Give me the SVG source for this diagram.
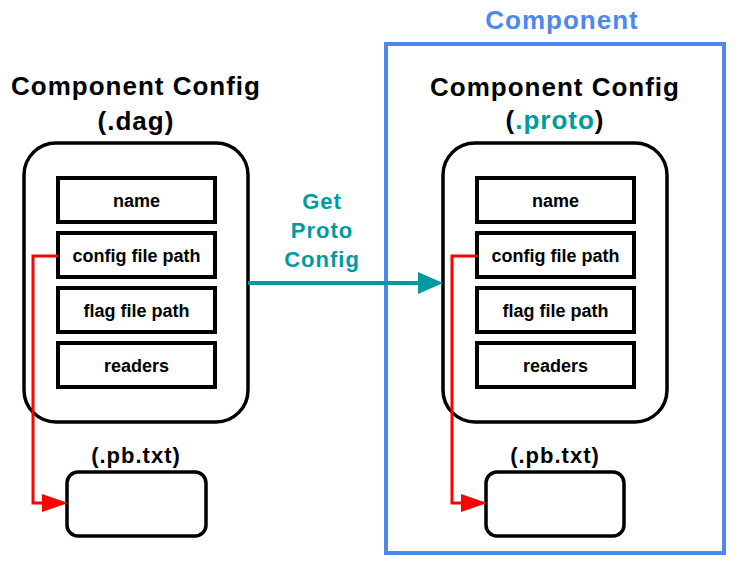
<svg xmlns="http://www.w3.org/2000/svg" width="738" height="566" viewBox="0 0 738 566">
<style>
text{font-family:"Liberation Sans",Arial,sans-serif;font-weight:bold;text-anchor:middle}
.title{font-size:26px;letter-spacing:1px;fill:#000}
.field{font-size:18px;fill:#000}
.pb{font-size:22px;letter-spacing:1px;fill:#000}
.outer{fill:#fff;stroke:#000;stroke-width:3.5}
.box{fill:#fff;stroke:#000;stroke-width:4}
.red{fill:none;stroke:#ff0000;stroke-width:3}
.teal{fill:#009aa0}
</style>
<rect width="738" height="566" fill="#fff"/>
<g id="component-frame">
<rect x="386" y="44" width="338" height="509" fill="none" stroke="#4f88ec" stroke-width="4"/>
<text x="562" y="29" class="title" fill="#4f88ec" style="fill:#4f88ec">Component</text>
</g>
<g id="dag-config">
<text x="136" y="95" class="title">Component Config</text>
<text x="136" y="130" class="title">(.dag)</text>
<rect x="24" y="143" width="224" height="279" rx="32" class="outer"/>
<rect x="58" y="178" width="157" height="44" class="box"/>
<text x="136.5" y="207" class="field">name</text>
<rect x="58" y="233" width="157" height="44" class="box"/>
<text x="136.5" y="262" class="field">config file path</text>
<rect x="58" y="288" width="157" height="44" class="box"/>
<text x="136.5" y="317" class="field">flag file path</text>
<rect x="58" y="343" width="157" height="44" class="box"/>
<text x="136.5" y="372" class="field">readers</text>
</g>
<g id="dag-pbtxt">
<text x="136" y="463" class="pb">(.pb.txt)</text>
<rect x="67" y="472" width="139" height="64" rx="11" class="outer"/>
</g>
<g id="proto-config">
<text x="555" y="96" class="title">Component Config</text>
<text x="555" y="129" class="title">(<tspan class="teal">.proto</tspan>)</text>
<rect x="443" y="143" width="224" height="279" rx="32" class="outer"/>
<rect x="477" y="178" width="157" height="44" class="box"/>
<text x="555.5" y="207" class="field">name</text>
<rect x="477" y="233" width="157" height="44" class="box"/>
<text x="555.5" y="262" class="field">config file path</text>
<rect x="477" y="288" width="157" height="44" class="box"/>
<text x="555.5" y="317" class="field">flag file path</text>
<rect x="477" y="343" width="157" height="44" class="box"/>
<text x="555.5" y="372" class="field">readers</text>
</g>
<g id="proto-pbtxt">
<text x="555" y="463" class="pb">(.pb.txt)</text>
<rect x="486" y="472" width="138" height="64" rx="11" class="outer"/>
</g>
<g id="connectors">
<polyline points="58,256 33,256 33,503 44,503" class="red"/>
<polygon points="42,494 68,503 42,512" fill="#ff0000"/>
<polyline points="477,256 452,256 452,503 463,503" class="red"/>
<polygon points="461,494 487,503 461,512" fill="#ff0000"/>
<line x1="248" y1="283" x2="420" y2="283" stroke="#009aa0" stroke-width="4"/>
<polygon points="418,272 443,283 418,294" fill="#009aa0"/>
<text x="322" y="209" class="teal" style="font-size:22px;letter-spacing:1px">Get</text>
<text x="322" y="238" class="teal" style="font-size:22px;letter-spacing:1px">Proto</text>
<text x="322" y="267" class="teal" style="font-size:22px;letter-spacing:1px">Config</text>
</g>
</svg>
